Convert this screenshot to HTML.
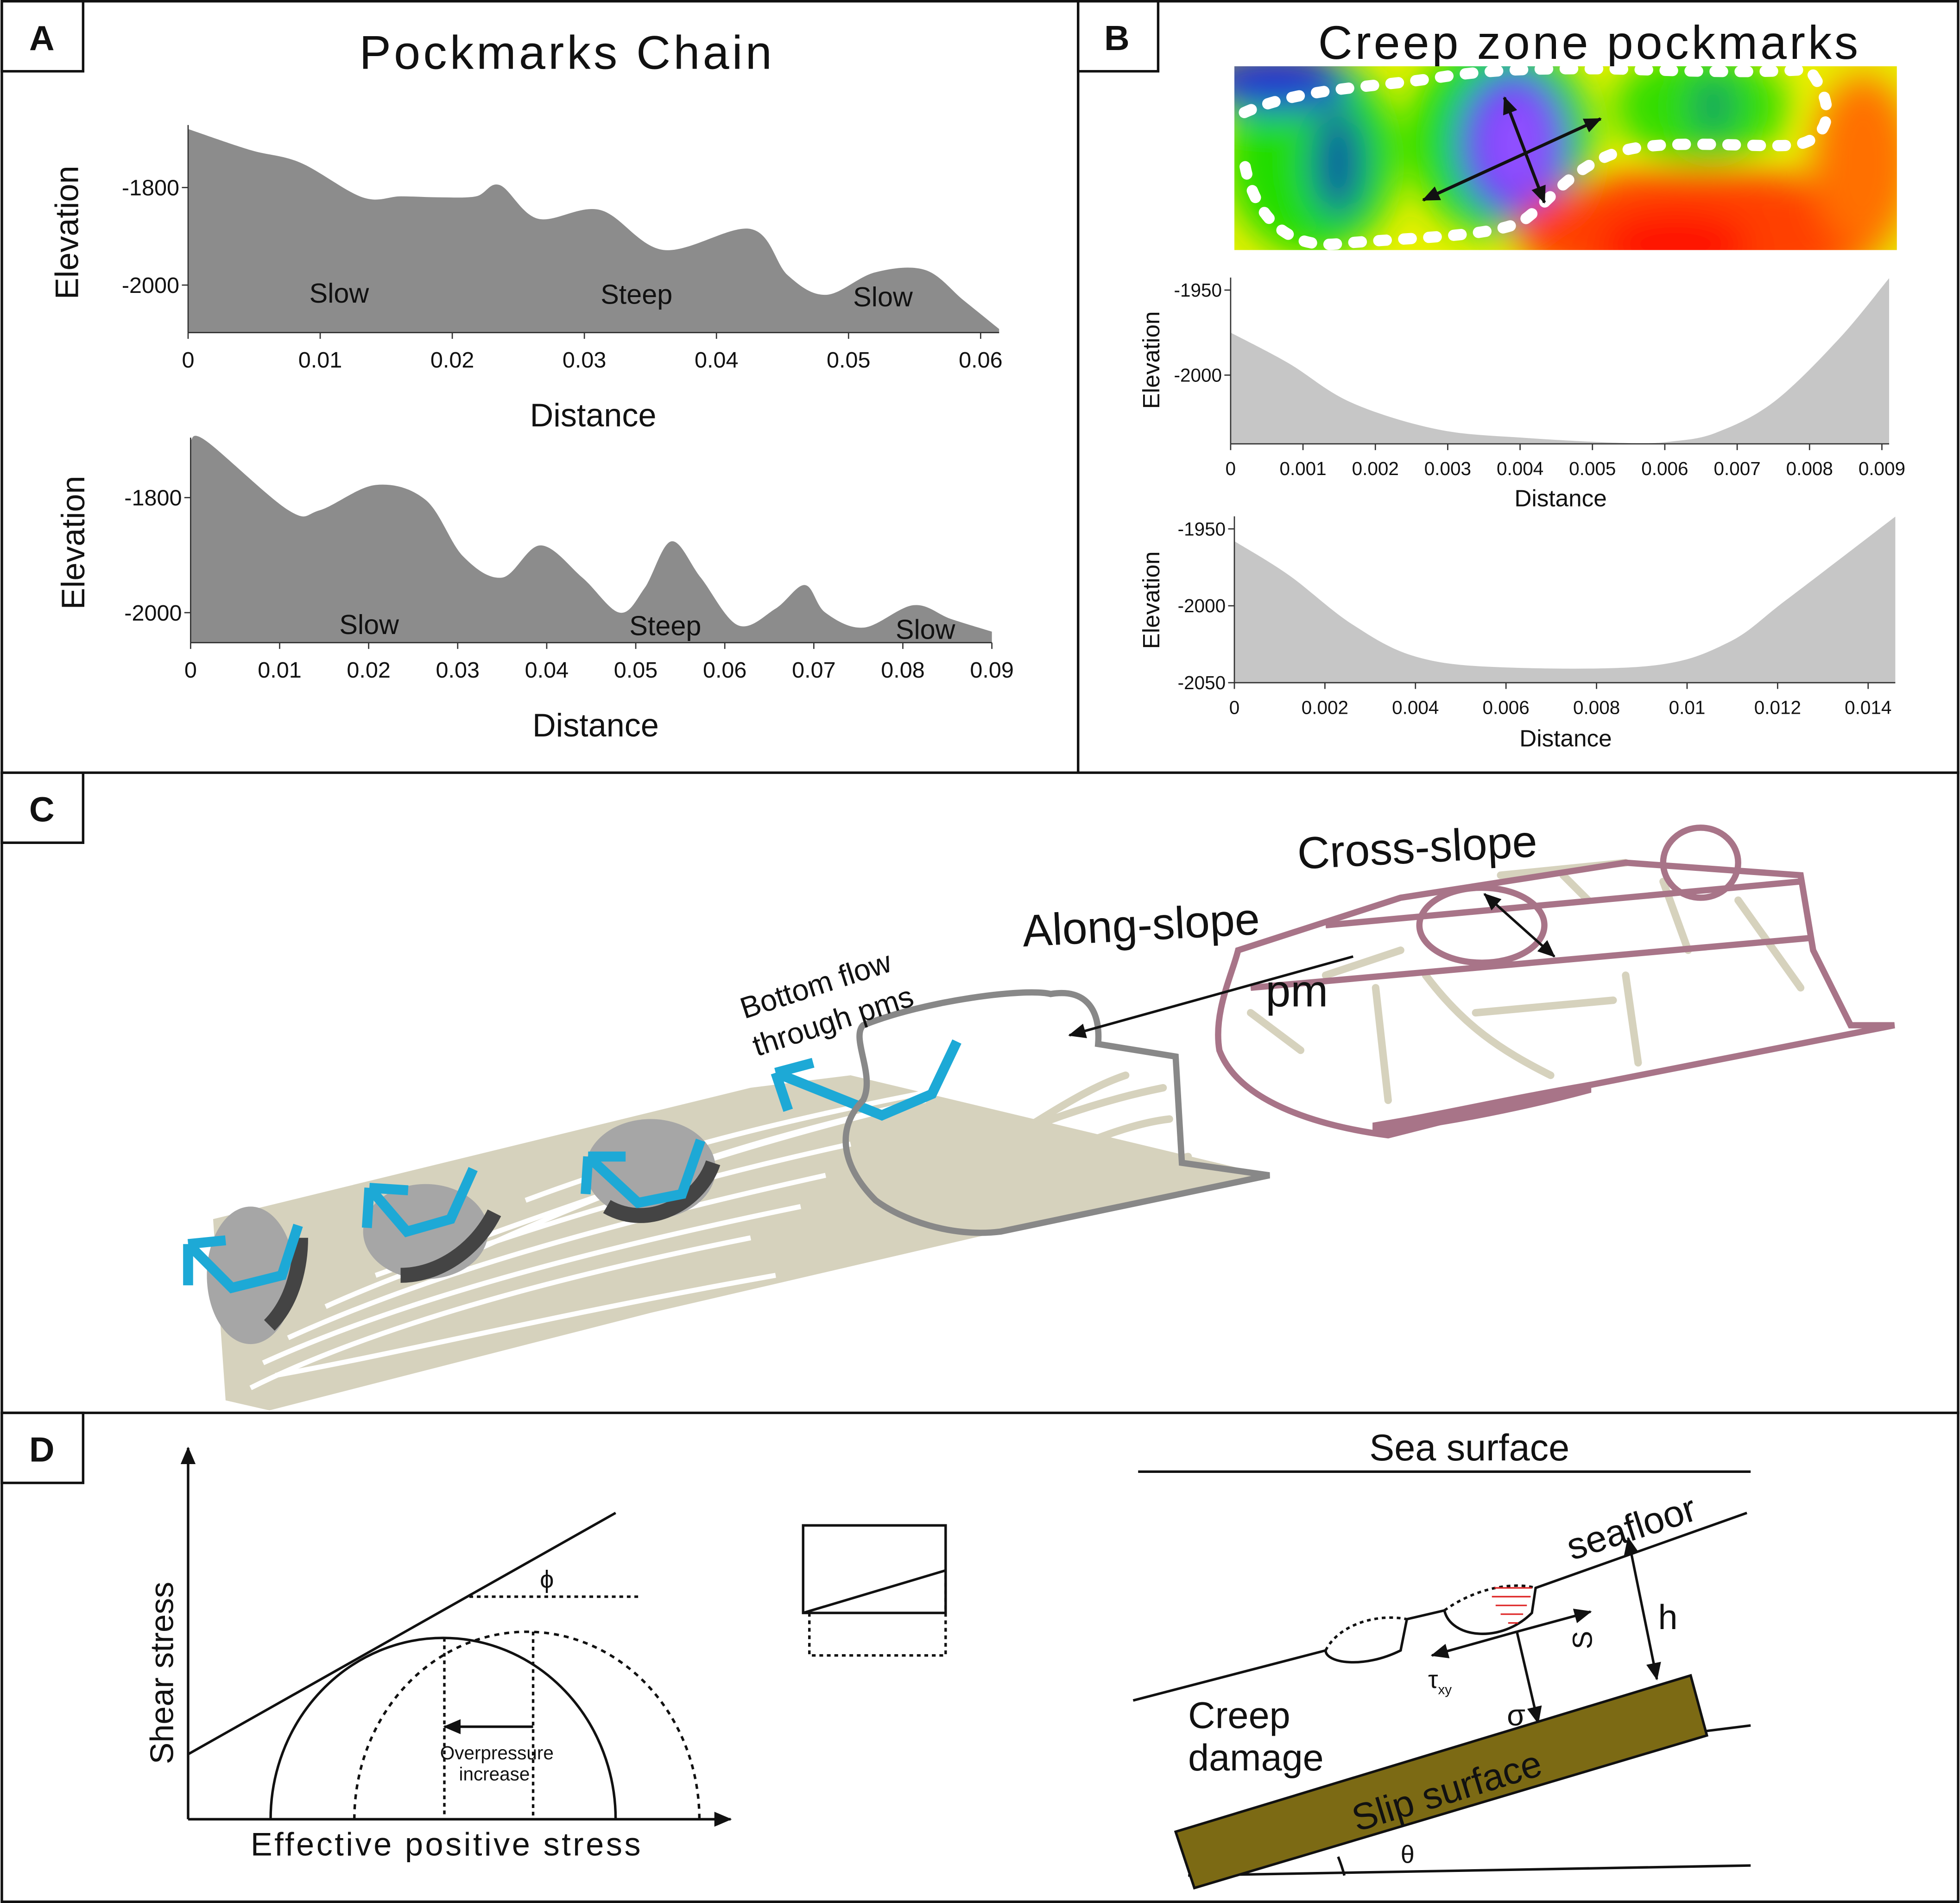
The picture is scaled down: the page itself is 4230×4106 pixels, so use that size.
<!DOCTYPE html>
<html><head><meta charset="utf-8"><style>
html,body{margin:0;padding:0;background:#fff}
svg{display:block}
text{font-family:"Liberation Sans",sans-serif;fill:#111}
</style></head><body>
<svg id="fig" width="4230" height="4106" viewBox="0 0 1567 1522" xmlns="http://www.w3.org/2000/svg">
<defs>
<filter id="blur" x="-20%" y="-20%" width="140%" height="140%"><feGaussianBlur stdDeviation="14"/></filter>
<clipPath id="hmclip"><rect x="987" y="53" width="530" height="147"/></clipPath>
<marker id="ah" markerUnits="userSpaceOnUse" markerWidth="14" markerHeight="12" refX="13" refY="6" orient="auto-start-reverse"><path d="M0,0 L14,6 L0,12 z" fill="#111"/></marker>
</defs>
<rect x="1" y="1" width="1565" height="1520" fill="#fff" stroke="#111" stroke-width="2"/>
<line x1="862" y1="0" x2="862" y2="618" stroke="#111" stroke-width="2"/>
<line x1="0" y1="618" x2="1567" y2="618" stroke="#111" stroke-width="2"/>
<line x1="0" y1="1130" x2="1567" y2="1130" stroke="#111" stroke-width="2"/>
<g>
<rect x="1" y="1" width="65" height="56" fill="#fff" stroke="#111" stroke-width="2"/><text x="33" y="40" font-size="28" font-weight="bold" text-anchor="middle">A</text>
<rect x="862" y="1" width="64" height="56" fill="#fff" stroke="#111" stroke-width="2"/><text x="893" y="40" font-size="28" font-weight="bold" text-anchor="middle">B</text>
<rect x="1" y="618" width="65" height="56" fill="#fff" stroke="#111" stroke-width="2"/><text x="33" y="657" font-size="28" font-weight="bold" text-anchor="middle">C</text>
<rect x="1" y="1130" width="65" height="56" fill="#fff" stroke="#111" stroke-width="2"/><text x="33" y="1169" font-size="28" font-weight="bold" text-anchor="middle">D</text>
</g>
<text x="452" y="55" font-size="38" text-anchor="middle" textLength="330">Pockmarks Chain</text>
<text x="1270" y="47" font-size="38" text-anchor="middle" textLength="432">Creep zone pockmarks</text>
<g id="charts"></g>

<!-- heatmap -->
<g clip-path="url(#hmclip)">
<rect x="987" y="53" width="530" height="147" fill="#e8f000"/>
<g filter="url(#blur)">
<ellipse cx="1050" cy="125" rx="70" ry="80" fill="#22dd00"/>
<ellipse cx="1200" cy="110" rx="75" ry="80" fill="#22dd00"/>
<ellipse cx="1360" cy="85" rx="70" ry="45" fill="#33dd00"/>
<ellipse cx="1070" cy="130" rx="22" ry="45" fill="#1060a0"/>
<ellipse cx="1210" cy="115" rx="45" ry="60" fill="#2020ee"/>
<ellipse cx="1212" cy="115" rx="32" ry="45" fill="#9050ff"/>
<ellipse cx="1020" cy="65" rx="60" ry="25" fill="#2030d0"/>
<ellipse cx="1370" cy="85" rx="18" ry="25" fill="#10a060"/>
<ellipse cx="1360" cy="185" rx="150" ry="50" fill="#ff4000"/>
<ellipse cx="1490" cy="130" rx="40" ry="70" fill="#ff7000"/>
<ellipse cx="1340" cy="195" rx="60" ry="25" fill="#ff1000"/>
</g>
<path d="M995,90 C1040,70 1100,70 1150,62 S1250,55 1280,55 S1400,60 1450,55 M1450,60 C1470,90 1460,110 1440,115 S1340,110 1300,120 S1240,160 1220,175 S1120,190 1070,195 S1000,160 995,130" fill="none" stroke="#fff" stroke-width="9" stroke-dasharray="6,14" stroke-linecap="round"/>
</g>
<g stroke="#111" stroke-width="2.5" fill="none">
<line x1="1203" y1="78" x2="1235" y2="162" marker-start="url(#ah)" marker-end="url(#ah)"/>
<line x1="1138" y1="160" x2="1280" y2="95" marker-start="url(#ah)" marker-end="url(#ah)"/>
</g>

<!-- Panel C -->
<g>
<path d="M170,975 L600,870 L680,860 L1015,940 L800,985 L520,1050 L215,1128 L180,1120 Z" fill="#d6d2bd"/>
<g stroke="#fff" stroke-width="4" fill="none">
<path d="M200,1110 C300,1060 450,1020 600,990"/><path d="M210,1090 C320,1040 470,1000 640,965"/>
<path d="M230,1070 C340,1020 480,980 660,940"/><path d="M260,1045 C360,1000 520,950 680,915"/>
<path d="M300,1020 C400,985 540,930 700,890"/><path d="M380,1000 C470,960 560,920 740,880"/>
<path d="M420,960 C500,930 600,900 760,870"/><path d="M220,1100 C330,1080 450,1050 620,1020"/>
</g>
<g stroke="#d6d2bd" stroke-width="6" fill="none" stroke-linecap="round">
<path d="M760,930 C820,900 880,880 930,870"/><path d="M770,960 C830,930 890,900 935,895"/>
<path d="M800,915 C840,890 870,870 900,860"/><path d="M780,975 C830,960 880,940 950,925"/>
<path d="M1100,790 L1110,880"/><path d="M1140,780 C1170,820 1200,840 1240,860"/>
<path d="M1180,810 L1290,800"/><path d="M1300,780 L1310,850"/><path d="M1060,780 L1120,760"/>
<path d="M1250,700 L1270,720 M1330,705 L1350,760 M1390,720 L1440,790"/>
<path d="M1000,810 L1040,840 M1200,700 L1300,690"/>
</g>
<ellipse cx="200" cy="1020" rx="35" ry="55" fill="#a6a6a6"/><path d="M215,1060 C235,1040 240,1010 240,990" stroke="#444" stroke-width="12" fill="none"/>
<ellipse cx="340" cy="985" rx="50" ry="38" fill="#a6a6a6"/><path d="M320,1020 C350,1020 380,1000 395,970" stroke="#444" stroke-width="12" fill="none"/>
<ellipse cx="520" cy="935" rx="52" ry="40" fill="#a6a6a6"/><path d="M485,965 C520,985 560,960 570,930" stroke="#444" stroke-width="12" fill="none"/>
<g stroke="#1da9d6" stroke-width="8" fill="none" stroke-linejoin="miter">
<path d="M238,980 L225,1020 L185,1030 L150,995 M150,995 L150,1028 M150,995 L180,992"/>
<path d="M378,935 L360,975 L325,985 L295,950 M295,950 L293,982 M295,950 L326,952"/>
<path d="M560,912 L545,955 L510,962 L470,925 M470,925 L468,955 M470,925 L500,925"/>
<path d="M765,833 L745,875 L705,892 L620,858 M620,858 L630,888 M620,858 L650,850"/>
</g>
<path d="M690,820 C740,800 820,790 840,795 C870,790 880,810 878,835 L940,845 L945,930 L1015,940 L800,985 C760,990 720,975 700,960 C670,930 670,900 690,880 C700,860 680,830 690,820 Z" fill="none" stroke="#888" stroke-width="5"/>
<path d="M990,760 L1120,718 L1300,690 L1440,700 L1450,760 L1480,820 L1515,820 L1260,870 L1110,908 C1050,900 990,880 975,840 C970,810 985,780 990,760 Z" fill="none" stroke="#a87488" stroke-width="5"/>
<ellipse cx="1185" cy="740" rx="50" ry="30" fill="none" stroke="#a87488" stroke-width="5"/>
<ellipse cx="1360" cy="690" rx="30" ry="28" fill="none" stroke="#a87488" stroke-width="5"/>
<path d="M1060,740 L1440,705 M1000,790 L1450,750" stroke="#a87488" stroke-width="5" fill="none"/>
<path d="M1100,905 C1180,895 1240,880 1270,872 L1270,868 C1200,880 1150,892 1100,900 Z" fill="#a87488" stroke="#a87488" stroke-width="5"/>
<line x1="1082" y1="765" x2="855" y2="828" stroke="#111" stroke-width="2" marker-end="url(#ah)"/>
<line x1="1187" y1="715" x2="1243" y2="765" stroke="#111" stroke-width="2" marker-start="url(#ah)" marker-end="url(#ah)"/>
</g>
<text x="1038" y="695" font-size="36" transform="rotate(-3 1038 695)">Cross-slope</text>
<text x="818" y="757" font-size="36" transform="rotate(-3 818 757)">Along-slope</text>
<text x="1012" y="805" font-size="36">pm</text>
<text x="595" y="815" font-size="24" transform="rotate(-18 595 815)">Bottom flow</text>
<text x="605" y="845" font-size="24" transform="rotate(-18 605 845)">through pms</text>

<!-- Panel D left -->
<g stroke="#111" fill="none" stroke-width="2">
<line x1="150" y1="1455" x2="150" y2="1158" marker-end="url(#ah)"/>
<line x1="150" y1="1455" x2="584" y2="1455" marker-end="url(#ah)"/>
<line x1="150" y1="1403" x2="492" y2="1210"/>
<line x1="375" y1="1277" x2="510" y2="1277" stroke-dasharray="3,3"/>
<path d="M216,1455 A138,145 0 0 1 492,1455"/>
<path d="M283,1455 A138,150 0 0 1 559,1455" stroke-dasharray="4,4"/>
<line x1="355" y1="1310" x2="355" y2="1455" stroke-dasharray="3,3"/>
<line x1="426" y1="1305" x2="426" y2="1455" stroke-dasharray="3,3"/>
<line x1="426" y1="1381" x2="355" y2="1381" marker-end="url(#ah)"/>
<rect x="642" y="1220" width="114" height="70"/>
<line x1="642" y1="1290" x2="756" y2="1256"/>
<path d="M647,1290 L647,1324 L756,1324 L756,1256" stroke-dasharray="3,3"/>
</g>
<text x="130" y="1330" font-size="26" transform="rotate(-90 138 1330)" text-anchor="middle">Shear stress</text>
<text x="356" y="1484" font-size="26" text-anchor="middle" textLength="312">Effective positive stress</text>
<text x="437" y="1270" font-size="20" font-family="Liberation Serif" text-anchor="middle">ϕ</text>
<text x="397" y="1407" font-size="15" text-anchor="middle">Overpressure</text>
<text x="395" y="1424" font-size="15" text-anchor="middle">increase</text>

<!-- Panel D right -->
<g stroke="#111" fill="none" stroke-width="2">
<line x1="910" y1="1177" x2="1400" y2="1177"/>
<path d="M906,1360 L1060,1320 C1060,1330 1090,1335 1120,1320 L1125,1295 L1155,1288 C1160,1310 1200,1315 1225,1290 L1228,1270 L1397,1210"/>
<path d="M1060,1320 C1070,1300 1100,1290 1125,1295" stroke-dasharray="3,3"/>
<path d="M1155,1288 C1180,1270 1210,1265 1228,1270" stroke-dasharray="3,3"/>
<line x1="1213" y1="1305" x2="1272" y2="1289" marker-end="url(#ah)"/>
<line x1="1213" y1="1305" x2="1145" y2="1324" marker-end="url(#ah)"/>
<line x1="1213" y1="1305" x2="1230" y2="1378" marker-end="url(#ah)"/>
<line x1="1302" y1="1230" x2="1325" y2="1343" marker-start="url(#ah)" marker-end="url(#ah)"/>
<line x1="1360" y1="1385" x2="1400" y2="1380"/>
<line x1="950" y1="1500" x2="1400" y2="1492"/>
<path d="M1075,1500 A125,125 0 0 0 1070,1485"/>
</g>
<g stroke="#d22" stroke-width="1.2"><line x1="1195" y1="1270" x2="1225" y2="1270"/><line x1="1193" y1="1277" x2="1224" y2="1277"/><line x1="1196" y1="1284" x2="1221" y2="1284"/><line x1="1200" y1="1291" x2="1218" y2="1291"/><line x1="1206" y1="1298" x2="1214" y2="1298"/></g>
<polygon points="940,1465 1352,1340 1365,1388 955,1510" fill="#7c6a14" stroke="#111" stroke-width="2"/>
<text x="1085" y="1465" font-size="30" transform="rotate(-17 1085 1465)">Slip surface</text>
<text x="1175" y="1168" font-size="30" text-anchor="middle">Sea surface</text>
<text x="1257" y="1248" font-size="30" transform="rotate(-18 1257 1248)">seafloor</text>
<text x="950" y="1382" font-size="30">Creep</text>
<text x="950" y="1416" font-size="30">damage</text>
<text x="1326" y="1303" font-size="28">h</text>
<text x="1258" y="1320" font-size="22" transform="rotate(-90 1265 1312)">S</text>
<text x="1142" y="1350" font-size="20" font-family="Liberation Serif">τ<tspan font-size="11" dy="5">xy</tspan></text>
<text x="1205" y="1380" font-size="24" font-family="Liberation Serif">σ</text>
<text x="1120" y="1490" font-size="20" font-family="Liberation Serif">θ</text>
</svg>
<script>
// Panel A top
const aTopDist=[0,0.0047,0.0085,0.0132,0.0161,0.019,0.0218,0.0236,0.0265,0.0312,0.036,0.0426,0.0454,0.0483,0.052,0.0558,0.0587,0.0614];
const aTopElev=[-1680,-1723,-1749,-1820,-1818,-1820,-1818,-1795,-1864,-1846,-1928,-1885,-1980,-2020,-1974,-1969,-2031,-2090];
const aTopXTicks=[0,0.01,0.02,0.03,0.04,0.05,0.06];
const aTopYTicks=[-1800,-2000];
// Panel A bottom
const aBotDist=[0,0.0018,0.011,0.0145,0.0208,0.0264,0.0306,0.035,0.0393,0.044,0.0482,0.051,0.054,0.0573,0.0615,0.0657,0.069,0.0713,0.0756,0.0812,0.0854,0.09];
const aBotElev=[-1700,-1702,-1822,-1822,-1778,-1804,-1902,-1939,-1883,-1939,-2000,-1957,-1876,-1939,-2022,-1993,-1952,-2000,-2026,-1987,-2011,-2033];
const aBotXTicks=[0,0.01,0.02,0.03,0.04,0.05,0.06,0.07,0.08,0.09];
const aBotYTicks=[-1800,-2000];
// Panel B top
const bTopDist=[0,0.0008,0.00166,0.00287,0.0041,0.0055,0.0061,0.0067,0.0075,0.0084,0.0091];
const bTopElev=[-1975,-1993,-2016,-2032,-2037,-2040,-2039,-2034,-2016,-1979,-1943];
const bTopXTicks=[0,0.001,0.002,0.003,0.004,0.005,0.006,0.007,0.008,0.009];
const bTopYTicks=[-1950,-2000];
// Panel B bottom
const bBotDist=[0,0.0012,0.0026,0.004,0.0059,0.0092,0.0109,0.0122,0.0146];
const bBotElev=[-1958,-1980,-2012,-2033,-2040,-2039,-2024,-1996,-1942];
const bBotXTicks=[0,0.002,0.004,0.006,0.008,0.01,0.012,0.014];
const bBotYTicks=[-1950,-2000,-2050];

const NS='http://www.w3.org/2000/svg';
const root=document.getElementById('charts');
function mk(tag,attrs,parent){const e=document.createElementNS(NS,tag);for(const k in attrs)e.setAttribute(k,attrs[k]);(parent||root).appendChild(e);return e;}
function smooth(pts){
  let d='';
  for(let i=0;i<pts.length-1;i++){
    const p0=pts[Math.max(0,i-1)],p1=pts[i],p2=pts[i+1],p3=pts[Math.min(pts.length-1,i+2)];
    const c1x=p1[0]+(p2[0]-p0[0])/6,c1y=p1[1]+(p2[1]-p0[1])/6;
    const c2x=p2[0]-(p3[0]-p1[0])/6,c2y=p2[1]-(p3[1]-p1[1])/6;
    d+=' C'+c1x+','+c1y+' '+c2x+','+c2y+' '+p2[0]+','+p2[1];
  }
  return d;
}
function chart(o){
  const g=mk('g',{});
  
  
  const sx=v=>o.x0+(v-o.d0)/(o.d1-o.d0)*(o.x1-o.x0);
  const sy=v=>o.y0+(v-o.e0)/(o.e1-o.e0)*(o.y1-o.y0);
  const pts=o.dist.map((v,i)=>[sx(v),sy(o.elev[i])]);
  let d='M'+pts[0][0]+','+o.base+' L'+pts[0][0]+','+pts[0][1]+smooth(pts)+' L'+pts[pts.length-1][0]+','+o.base+' Z';
  const p=mk('path',{d:d,fill:o.fill},g);
  
  
  mk('line',{x1:o.x0,y1:o.base,x2:sx(o.dist[o.dist.length-1]),y2:o.base,stroke:'#333','stroke-width':1},g);
  mk('line',{x1:o.x0,y1:o.top,x2:o.x0,y2:o.base,stroke:'#333','stroke-width':1},g);
  o.xt.forEach(t=>{mk('line',{x1:sx(t),y1:o.base,x2:sx(t),y2:o.base+5,stroke:'#333'},g);
    const tx=mk('text',{x:sx(t),y:o.base+o.fs+10,'font-size':o.fs,'text-anchor':'middle'},g);tx.textContent=String(t);
    });
  o.yt.forEach(t=>{mk('line',{x1:o.x0-5,y1:sy(t),x2:o.x0,y2:sy(t),stroke:'#333'},g);
    const tx=mk('text',{x:o.x0-7,y:sy(t)+o.fs*0.35,'font-size':o.fs,'text-anchor':'end'},g);tx.textContent=String(t);
    });
  const xl=mk('text',{x:o.xlx,y:o.xly,'font-size':o.tfs,'text-anchor':'middle'},g);xl.textContent='Distance';
  
  const yl=mk('text',{x:o.ylx,y:o.yly,'font-size':o.tfs,'text-anchor':'middle',transform:'rotate(-90 '+o.ylx+' '+o.yly+')'},g);yl.textContent='Elevation';
  
  (o.labels||[]).forEach(l=>{const t=mk('text',{x:l[0],y:l[1],'font-size':22},g);t.textContent=l[2];
    });
}
chart({name:'chart-a-top',dist:aTopDist,elev:aTopElev,xt:aTopXTicks,yt:aTopYTicks,x0:150,x1:784,d0:0,d1:0.06,y0:150,y1:228,e0:-1800,e1:-2000,base:266,top:100,fill:'#8c8c8c',fs:18,tfs:26,xlx:474,xly:341,ylx:62,yly:186,labels:[[247,242,'Slow'],[480,243,'Steep'],[682,245,'Slow']]});
chart({name:'chart-a-bottom',dist:aBotDist,elev:aBotElev,xt:aBotXTicks,yt:aBotYTicks,x0:152,x1:793,d0:0,d1:0.09,y0:398,y1:490,e0:-1800,e1:-2000,base:514,top:350,fill:'#8c8c8c',fs:18,tfs:26,xlx:476,xly:589,ylx:67,yly:434,labels:[[271,507,'Slow'],[503,508,'Steep'],[716,511,'Slow']]});
chart({name:'chart-b-top',dist:bTopDist,elev:bTopElev,xt:bTopXTicks,yt:bTopYTicks,x0:984,x1:1505,d0:0,d1:0.009,y0:232,y1:300,e0:-1950,e1:-2000,base:355,top:222,fill:'#c6c6c6',fs:15,tfs:19,xlx:1248,xly:405,ylx:927,yly:288});
chart({name:'chart-b-bottom',dist:bBotDist,elev:bBotElev,xt:bBotXTicks,yt:bBotYTicks,x0:987,x1:1494,d0:0,d1:0.014,y0:423,y1:546,e0:-1950,e1:-2050,base:546,top:413,fill:'#c6c6c6',fs:15,tfs:19,xlx:1252,xly:597,ylx:927,yly:480});
</script>
</body></html>
